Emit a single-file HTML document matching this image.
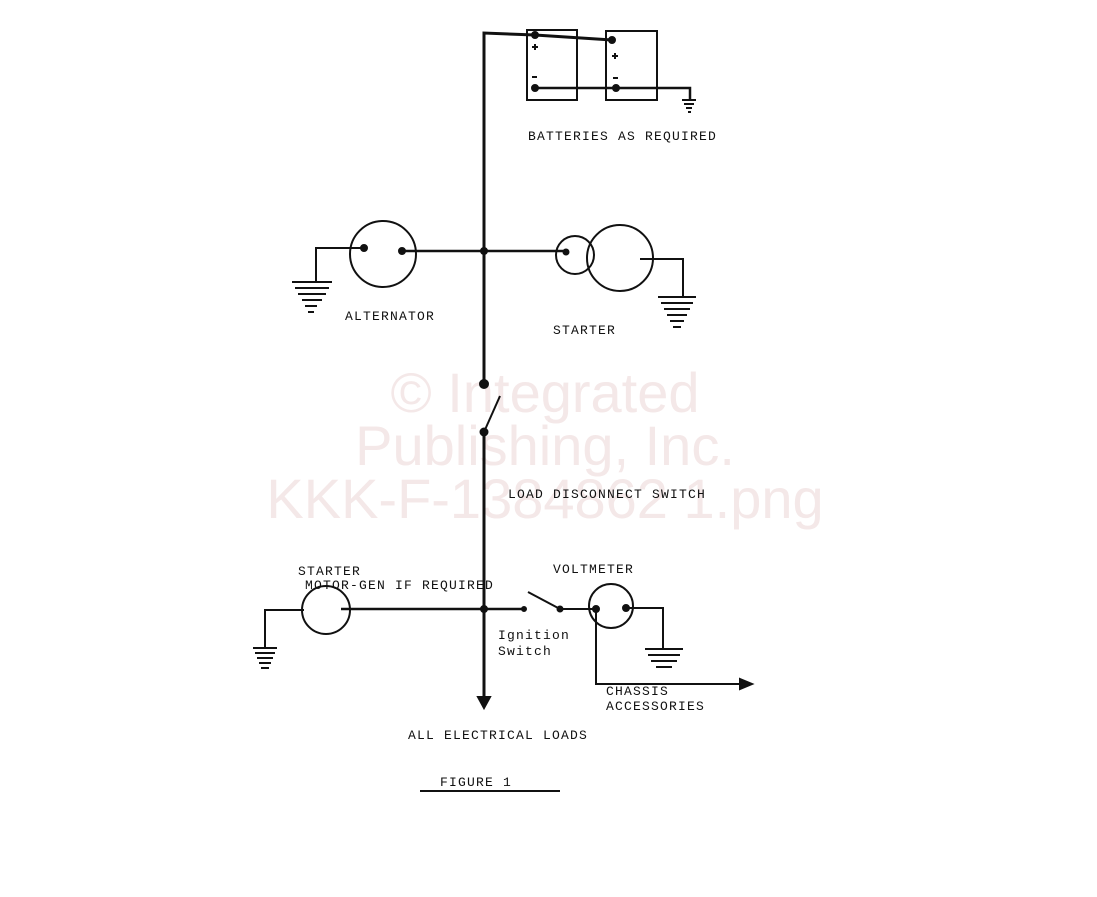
<!DOCTYPE html>
<html><head><style>
html,body{margin:0;padding:0;background:#fff;}
svg{display:block}
text{font-family:"Liberation Mono",monospace;fill:#111;font-size:13px;letter-spacing:1.2px;stroke:none;}
.wm{font-family:"Liberation Sans",sans-serif;fill:#f4e8e8;font-size:56px;letter-spacing:0;}
</style></head><body>
<svg width="1097" height="897" viewBox="0 0 1097 897" xmlns="http://www.w3.org/2000/svg">
<text class="wm" x="545" y="412" text-anchor="middle">© Integrated</text>
<text class="wm" x="545" y="465" text-anchor="middle">Publishing, Inc.</text>
<text class="wm" x="545" y="518" text-anchor="middle">KKK-F-1384862 1.png</text>
<g fill="none" stroke="#111" stroke-width="2">
<path d="M484 100 V33 L535 35 L612 40" stroke-width="3"/>
<path d="M484 100 V384" stroke-width="3"/>
<path d="M484 432 L500 396" stroke-width="2"/>
<path d="M484 432 V700" stroke-width="3"/>
<circle cx="484" cy="384" r="4" fill="#111"/>
<circle cx="484" cy="432" r="3.5" fill="#111"/>
<path d="M478 697 L490 697 L484 708 Z" fill="#111"/>
<rect x="527" y="30" width="50" height="70"/>
<rect x="606" y="31" width="51" height="69"/>
<path d="M535 88 H690 V100" stroke-width="2.5"/>
<circle cx="535" cy="35" r="3" fill="#111"/><circle cx="612" cy="40" r="3" fill="#111"/>
<circle cx="535" cy="88" r="3" fill="#111"/><circle cx="616" cy="88" r="3" fill="#111"/>
<path d="M532 47 h6 M535 44 v6 M532 77 h5 M612 56 h6 M615 53 v6 M613 78 h5"/>
<path d="M682 100 h14 M684 104 h10 M686 108 h6 M688 112 h3"/>
<circle cx="383" cy="254" r="33"/>
<path d="M402 251 H566" stroke-width="2.5"/>
<circle cx="484" cy="251" r="3" fill="#111"/>
<circle cx="402" cy="251" r="3" fill="#111"/><circle cx="364" cy="248" r="3" fill="#111"/>
<path d="M364 248 H316 V282"/>
<path d="M292 282 h40 M295 288 h34 M298 294 h28 M302 300 h20 M305 306 h12 M308 312 h6"/>
<circle cx="575" cy="255" r="19"/>
<circle cx="620" cy="258" r="33"/>
<circle cx="566" cy="252" r="2.5" fill="#111"/>
<path d="M640 259 H683 V297"/>
<path d="M658 297 h38 M661 303 h32 M664 309 h26 M667 315 h20 M670 321 h14 M673 327 h8"/>
<circle cx="326" cy="610" r="24"/>
<path d="M304 610 H265 V648"/>
<path d="M341 609 H524" stroke-width="2.5"/>
<circle cx="484" cy="609" r="3" fill="#111"/><circle cx="524" cy="609" r="2" fill="#111"/>
<path d="M560 609 L528 592"/>
<path d="M560 609 H596"/>
<circle cx="560" cy="609" r="2.5" fill="#111"/>
<path d="M253 648 h24 M255 653 h20 M257 658 h16 M259 663 h12 M261 668 h8"/>
<circle cx="611" cy="606" r="22"/>
<circle cx="596" cy="609" r="3" fill="#111"/><circle cx="626" cy="608" r="3" fill="#111"/>
<path d="M626 608 H663 V648"/>
<path d="M645 649 h38 M648 655 h32 M651 661 h26 M656 667 h16"/>
<path d="M596 609 V684 H744"/>
<path d="M740 679 L752 684 L740 689 Z" fill="#111"/>
<path d="M420 791 H560" stroke-width="2"/>
</g>
<text x="528" y="140">BATTERIES AS REQUIRED</text>
<text x="345" y="320">ALTERNATOR</text>
<text x="553" y="334">STARTER</text>
<text x="508" y="498">LOAD DISCONNECT SWITCH</text>
<text x="298" y="575">STARTER</text>
<text x="305" y="589">MOTOR-GEN IF REQUIRED</text>
<text x="553" y="573">VOLTMETER</text>
<text x="498" y="639">Ignition</text>
<text x="498" y="655">Switch</text>
<text x="606" y="695">CHASSIS</text>
<text x="606" y="710">ACCESSORIES</text>
<text x="408" y="739">ALL ELECTRICAL LOADS</text>
<text x="440" y="786">FIGURE  1</text>
</svg>
</body></html>
